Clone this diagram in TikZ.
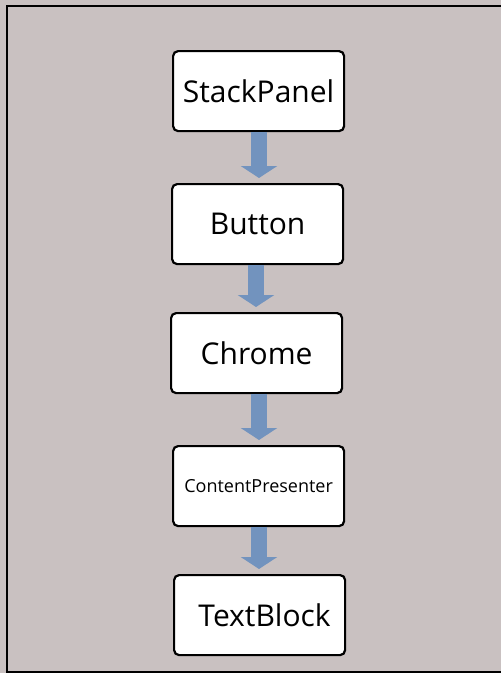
\documentclass[tikz,border=0pt]{standalone}
\usepackage{fontspec}
\setmainfont{Open Sans}
\usetikzlibrary{arrows.meta}
\definecolor{bgc}{RGB}{201,193,193}
\definecolor{arrc}{RGB}{114,147,190}
\tikzset{
  box/.style={draw=black, line width=2.2pt, fill=white, rounded corners=5pt,
    minimum width=171pt, minimum height=80pt, inner sep=0pt, anchor=north west},
  big/.style={font=\fontsize{30}{36}\selectfont},
  flow/.style={draw=arrc, line width=16pt,
    -{Triangle[width=36pt,length=12pt]}, shorten <=2pt, shorten >=5pt}
}
\begin{document}
\begin{tikzpicture}[x=1pt,y=-1pt]
\useasboundingbox (0,0) rectangle (501,673);
\fill[bgc] (0,0) rectangle (501,673);
\draw[black, line width=2pt] (502,5.5) -- (6.5,5.5) -- (6.5,671.5) -- (502,671.5);
\node[box] (sp) at (172,50) {};
\node[big] at (sp.center) {StackPanel};
\node[box] (bt) at (171,183) {};
\node[big] at (bt.center) {Button};
\node[box] (ch) at (170,312) {};
\node[big] at (ch.center) {Chrome};
\node[box] (cp) at (172,445) {};
\node[font=\fontsize{18}{22}\selectfont] at (cp.center) {ContentPresenter};
\node[box] (tb) at (173,574) {};
\node[big] at ([xshift=5pt]tb.center) {TextBlock};
\coordinate (a1) at (259,130);
\coordinate (a2) at (256,263);
\coordinate (a3) at (259,392);
\coordinate (a4) at (259,525);
\draw[flow] (a1) -- (a1 |- bt.north);
\draw[flow] (a2) -- (a2 |- ch.north);
\draw[flow] (a3) -- (a3 |- cp.north);
\draw[flow] (a4) -- (a4 |- tb.north);
\end{tikzpicture}
\end{document}
